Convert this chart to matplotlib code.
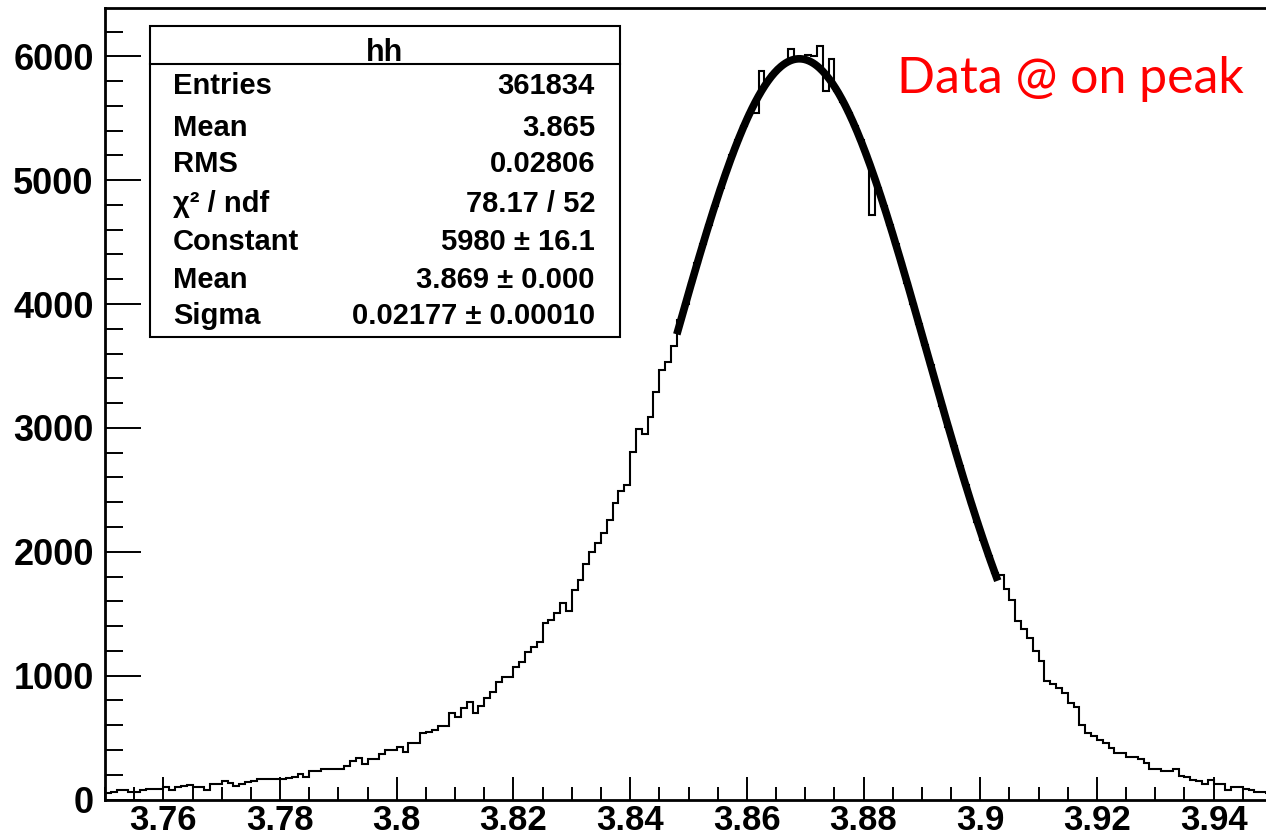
import numpy as np
import matplotlib
matplotlib.use("Agg")
import matplotlib.pyplot as plt
from matplotlib.patches import Rectangle
from matplotlib.ticker import MultipleLocator, FuncFormatter

# histogram binning (ROOT "hh": 200 bins from 3.75 to 3.95)
x_min, x_max, n_bins = 3.75, 3.95, 200

# bin contents, split by region
counts_left = [55, 62, 80, 75, 62, 58, 80, 82, 82, 84,
               104, 80, 104, 106, 117, 104, 104, 80, 122, 122,
               150, 136, 110, 122, 140, 146, 166, 166, 166, 166,
               168, 176, 184, 206, 180, 233, 233, 246, 246, 246,
               250, 271, 314, 333, 287, 324, 324, 368, 400, 400]
counts_rise = [427, 386, 454, 454, 534, 545, 562, 594, 594, 701,
               664, 741, 785, 696, 758, 822, 866, 952, 992, 992,
               1073, 1113, 1194, 1234, 1275, 1423, 1450, 1504, 1590, 1525,
               1692, 1773, 1902, 2002, 2070, 2150, 2258, 2397, 2494, 2540,
               2809, 2993, 2952, 3087, 3286, 3469, 3536, 3658]
counts_core = [3873, 4004, 4167, 4329, 4487, 4641, 4791, 4934, 5071, 5201,
               5323, 5437, 5541, 5545, 5880, 5792, 5854, 5903, 5941, 6060,
               5978, 5990, 6010, 6000, 6084, 5717, 5976, 5719, 5635, 5541,
               5437, 5323, 5201, 4721, 4934, 4791, 4641, 4487, 4329, 4167,
               4004, 3839, 3672, 3505, 3339, 3174, 3011, 2851, 2693, 2538,
               2388, 2241, 2099, 1962, 1830]
counts_fall = [1813, 1698, 1611, 1442, 1380, 1300, 1202, 1121, 960, 933,
               903, 863, 782, 750, 600, 535, 513, 481, 454, 413,
               378, 373, 346, 346, 325, 297, 250, 244, 233, 228,
               244, 186, 181, 158, 152, 125, 158, 125, 125, 77,
               98, 98, 85, 77, 58, 58, 55]

# gaussian fit result shown in the stats box
fit_const, fit_mean, fit_sigma = 5980.0, 3.869, 0.02177
fit_lo, fit_hi = 3.848, 3.903

stats_labels = ["Entries", "Mean", "RMS", "\u03c7\u00b2 / ndf", "Constant", "Mean", "Sigma"]
stats_values = ["361834", "3.865", "0.02806", "78.17 / 52",
                "5980 \u00b1 16.1", "3.869 \u00b1 0.000", "0.02177 \u00b1 0.00010"]

W, H = 1266, 840
fig = plt.figure(figsize=(W / 100, H / 100), dpi=100)
ax = fig.add_axes([105 / W, 1 - 799.5 / H, (1272 - 105) / W, (799.5 - 8) / H])

counts = np.array(counts_left + counts_rise + counts_core + counts_fall, dtype=float)
edges = np.linspace(x_min, x_max, n_bins + 1)
ax.stairs(counts, edges, color="black", lw=1.5, baseline=0)

xf = np.linspace(fit_lo, fit_hi, 300)
yf = fit_const * np.exp(-0.5 * ((xf - fit_mean) / fit_sigma) ** 2)
ax.plot(xf, yf, color="black", lw=5.5, solid_capstyle="butt")

ax.set_xlim(x_min, x_max)
ax.set_ylim(0, 6390)

rootfont = "Liberation Sans"
ax.xaxis.set_major_locator(MultipleLocator(0.02))
ax.xaxis.set_minor_locator(MultipleLocator(0.005))
ax.yaxis.set_major_locator(MultipleLocator(1000))
ax.yaxis.set_minor_locator(MultipleLocator(200))
ax.xaxis.set_major_formatter(FuncFormatter(lambda v, p: "{:g}".format(round(v, 4))))
ax.tick_params(axis="x", which="major", direction="in", length=16.5, width=1.4, pad=3.5)
ax.tick_params(axis="x", which="minor", direction="in", length=9.4, width=1.4)
ax.tick_params(axis="y", which="major", direction="in", length=26, width=1.4, pad=8)
ax.tick_params(axis="y", which="minor", direction="in", length=13, width=1.4)
for lab in ax.get_xticklabels():
    lab.set_fontfamily(rootfont)
    lab.set_fontweight("bold")
    lab.set_fontsize(25)
for lab in ax.get_yticklabels():
    lab.set_fontfamily(rootfont)
    lab.set_fontweight("bold")
    lab.set_fontsize(26)
for s in ax.spines.values():
    s.set_linewidth(2)

# stats box (figure pixel coords from top-left)
def fx(px):
    return px / W

def fy(py):
    return 1 - py / H

box = Rectangle((fx(150), fy(337)), fx(620) - fx(150), fy(26) - fy(337),
                transform=fig.transFigure, facecolor="white", edgecolor="black", lw=1.5, zorder=5)
fig.add_artist(box)
fig.add_artist(plt.Line2D([fx(150), fx(620)], [fy(64), fy(64)], transform=fig.transFigure,
                          color="black", lw=1.5, zorder=6))
fig.text(fx(385), fy(61), "hh", ha="center", va="baseline", fontsize=22,
         fontweight="bold", family=rootfont, zorder=7)
baselines = [93.5, 135.5, 172.5, 211.5, 250.5, 288.5, 323.5]
for lab, val, b in zip(stats_labels, stats_values, baselines):
    fig.text(fx(173), fy(b), lab, ha="left", va="baseline", fontsize=21,
             fontweight="bold", family=rootfont, zorder=7)
    fig.text(fx(595), fy(b), val, ha="right", va="baseline", fontsize=21,
             fontweight="bold", family=rootfont, zorder=7)

fig.text(fx(897), fy(93), "Data @ on peak", ha="left", va="baseline", fontsize=36,
         color="#ff0000", family="Lato")

fig.savefig("out.png", dpi=100)
